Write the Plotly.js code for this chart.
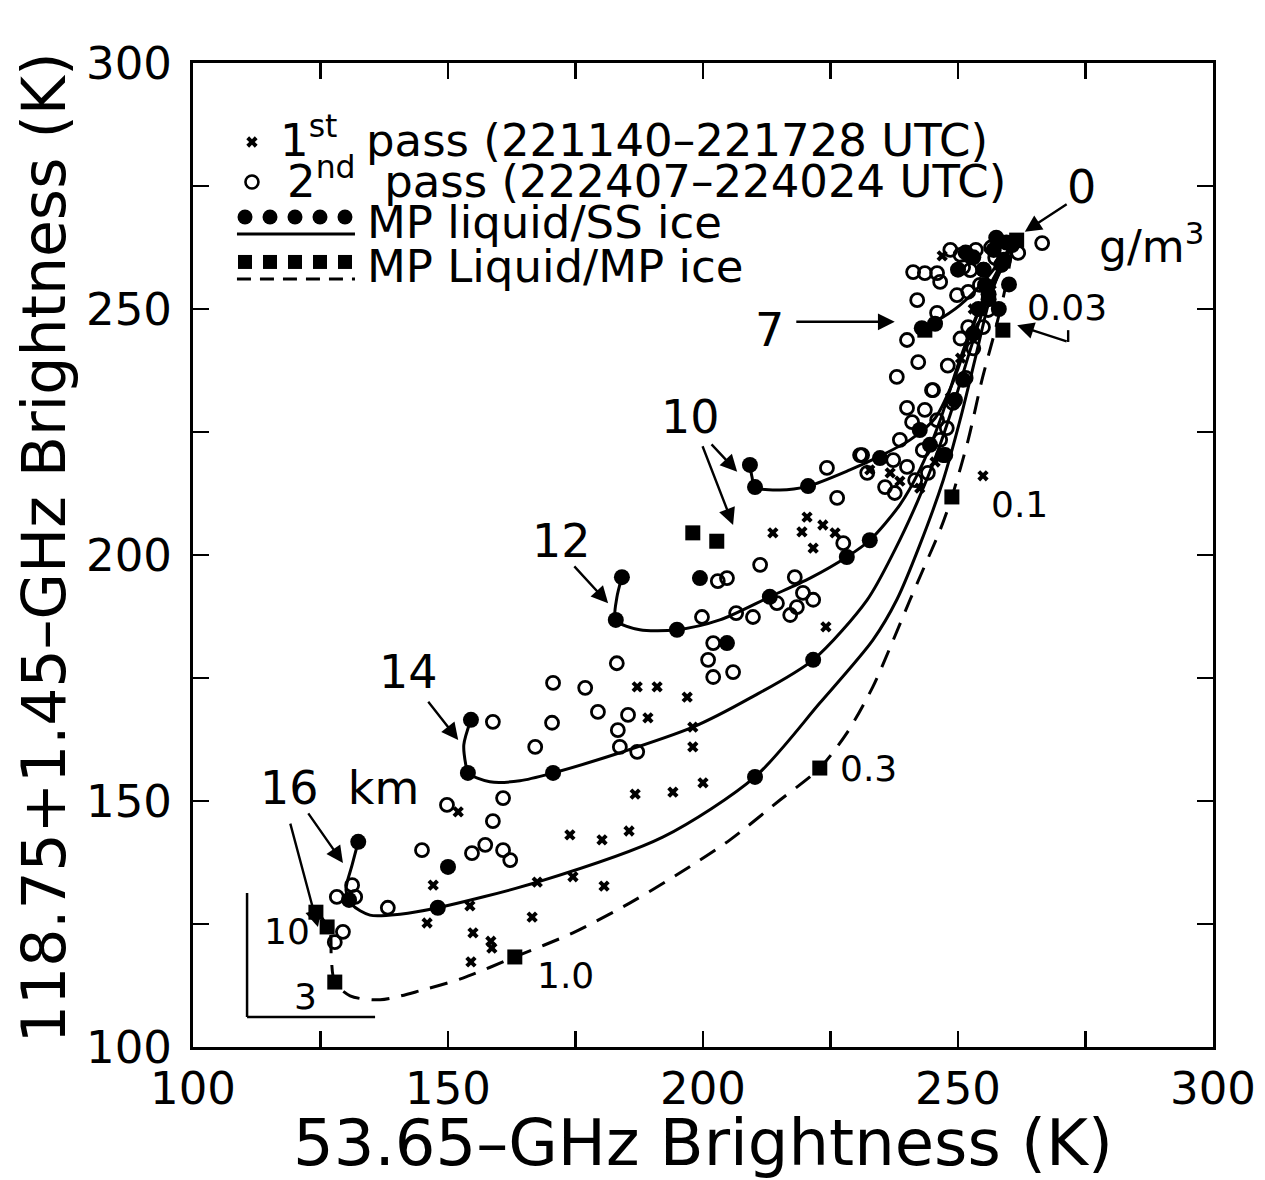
<!DOCTYPE html>
<html><head><meta charset="utf-8">
<script src="https://cdn.plot.ly/plotly-3.0.1.min.js"></script>
<style>body{margin:0;background:#fff}</style>
</head><body><div id="chart" style="width:1265px;height:1180px"></div>
<script>
// ---- axis ticks ----
const xTickVals = [100, 150, 200, 250, 300];
const yTickVals = [100, 150, 200, 250, 300];

// ---- observations: 1st pass (x) ----
const firstPassX = [186.7,194.1,200.0,173.9,180.2,185.5,174.5,180.6,166.5,154.9,158.4,158.6,154.5,154.3,167.5,147.1,145.9,152.0,213.7,219.4,223.5,221.6,220.4,225.9,224.1,187.1,191.0,189.2,196.9,198.0,198.0,242.5,254.9,236.7,238.6,246.9,232.7,245.5,234.7,250.5,253.0,256.5,248.5];
const firstPassY = [151.4,151.8,153.7,143.1,142.1,143.9,134.6,132.7,126.4,123.2,121.5,120.1,117.3,128.7,133.5,132.9,125.2,147.8,204.5,204.7,206.1,201.4,207.7,204.5,185.4,173.2,173.2,166.9,171.1,165.0,161.0,213.6,216.1,216.7,215.0,260.8,217.3,218.9,219.7,240.0,250.0,255.0,232.0];

// ---- observations: 2nd pass (o) ----
const secondPassX = [128.2,131.2,131.8,138.2,129.4,127.8,144.9,149.8,158.8,160.8,154.7,157.3,160.8,162.2,
  170.4,167.1,158.8,170.6,176.9,179.4,183.1,183.3,185.3,183.7,187.1,
  202.9,204.7,211.2,218.0,199.8,206.5,209.8,214.5,218.4,219.6,221.6,217.1,202.0,201.0,202.0,205.9,
  224.3,231.2,226.3,227.5,
  240.0,243.5,245.1,249.0,241.0,245.9,247.8,238.6,243.1,246.5,247.1,240.0,237.3,241.6,244.1,235.7,237.6,232.2,230.8,
  266.5,261.8,257.3,241.2,243.5,245.9,246.5,242.0,245.9,240.0,242.2,238.0,244.9,252.0,249.8,254.3,255.9,252.0,254.9,252.4,
  250.5,253.5,256.5,258.5,251.0,255.0,248.5,250.5,253.0,251.5,248.0];
const secondPassY = [130.5,132.9,130.5,128.3,123.4,121.3,140.0,149.2,145.9,150.6,139.4,141.1,140.0,138.0,
  165.9,161.0,166.1,174.0,173.0,168.1,178.0,164.4,167.5,161.0,160.0,
  194.7,195.3,198.0,195.5,187.4,188.2,187.4,190.2,189.4,192.3,190.9,187.8,182.1,178.7,175.2,176.2,
  217.7,220.3,211.6,202.4,
  229.9,229.5,233.5,230.9,227.0,227.4,225.8,223.4,221.3,223.4,220.3,217.9,219.3,215.2,216.7,213.8,212.6,216.7,220.3,
  263.4,261.4,260.4,257.5,257.3,257.3,255.5,251.8,249.2,243.7,239.2,236.2,233.5,253.5,252.8,254.9,249.8,246.3,246.3,257.9,
  261.0,262.0,262.5,259.0,258.5,258.0,262.0,244.0,242.0,236.0,238.5];

// ---- model: MP liquid / SS ice (solid curves, km cloud tops) ----
const ss16X = [132.4,131.2,130.0,131.2,134.7,140.6,148.0,167.5,192.2,210.2,222.9,233.3,238.0,242.5,247.1,250.4,253.3,255.9,258.2,260.6];
const ss16Y = [141.7,137.0,131.9,128.9,126.8,127.0,128.3,133.5,142.7,154.9,169.9,182.7,190.9,202.0,215.2,227.4,239.6,250.8,257.9,263.0];
const ss14X = [154.5,153.1,153.5,153.9,158.2,164.1,170.6,183.7,198.0,209.2,221.6,232.2,237.6,242.2,246.1,249.4,252.4,255.3,258.2,260.6];
const ss14Y = [166.5,161.4,157.3,155.7,153.9,154.1,155.7,159.8,165.0,170.9,178.7,190.9,201.0,211.2,221.3,231.5,241.7,250.8,257.5,263.0];
const ss12X = [184.1,183.1,182.9,187.6,194.9,203.3,213.1,221.0,228.2,232.7,238.6,242.5,246.5,250.0,253.3,256.3,260.6];
const ss12Y = [195.5,191.3,186.8,184.8,184.8,186.8,191.5,195.3,199.6,203.0,210.2,217.3,227.4,238.6,247.8,254.9,263.0];
const ss10X = [209.2,209.6,210.2,215.1,220.6,228.8,234.7,240.6,245.5,248.8,252.0,255.3,258.2,260.6];
const ss10Y = [218.3,215.9,213.8,213.2,214.0,217.3,220.1,223.4,227.8,234.6,243.7,252.8,258.3,263.0];
const ss7X = [242.9,245.5,250.4,255.3,260.6];
const ss7Y = [246.1,247.4,250.8,255.9,263.0];
// filled-circle points on the SS-ice curves
const ssDotX = [132.4,130.6,148.0,210.2,251.0,247.5,154.5,153.9,170.6,221.6,249.4,184.1,182.9,194.9,213.1,228.2,232.7,244.5,209.2,210.2,220.6,234.7,242.5,242.9,245.5,255.3,199.4,204.7,150.0,260.6,258.5,256.0,253.0,
  257.0,259.0,255.0,253.0,250.0,256.0,258.0,260.0,254.0,257.5,259.5,251.5];
const ssDotY = [141.7,129.9,128.3,154.9,235.6,220.3,166.5,155.7,155.7,178.7,231.5,195.5,186.8,184.8,191.5,199.6,203.0,222.4,218.3,213.8,214.0,219.7,225.4,246.1,247.0,254.9,195.3,182.1,136.6,263.0,259.0,252.0,245.0,
  262.0,260.0,258.0,260.5,258.0,253.0,250.0,255.0,250.0,264.5,263.5,261.5];

// ---- model: MP liquid / MP ice (dashed curve) ----
const mpX = [123.9,125.3,126.9,127.1,127.8,130.8,136.7,145.1,152.9,163.1,174.5,185.7,195.5,205.3,215.1,222.9,228.2,233.3,237.3,240.6,243.1,246.5,248.8,252.0,254.7,257.3,259.2,260.6];
const mpY = [127.8,126.2,123.4,118.7,113.2,110.4,109.6,111.6,114.0,118.3,123.2,129.3,135.4,142.1,150.2,156.7,163.8,173.2,182.7,190.9,196.9,205.1,211.8,223.4,235.6,245.7,253.9,262.0];
const mpSqX = [124.1,126.3,127.8,163.1,222.9,248.8,258.8,198.0,202.7,243.5,261.5];
const mpSqY = [127.4,124.4,113.2,118.3,156.7,211.8,245.7,204.5,202.8,245.7,264.0];

// ---- labels ----
const iwcLabels = ['0.03','0.1','0.3','1.0','10','3'];
const legendTexts = ['1<sup>st</sup>\u00a0\u00a0pass (221140–221728 UTC)',
                     '2<sup>nd</sup>\u00a0\u00a0pass (222407–224024 UTC)',
                     'MP liquid/SS ice', 'MP Liquid/MP ice'];
const xTitle = '53.65–GHz Brightness (K)';
const yTitle = '118.75+1.45–GHz Brightness (K)';

const FONT = 'DejaVu Sans, Verdana, sans-serif';
const K = 'black';

const traces = [];
function curve(x, y, dash) {
  traces.push({x, y, type:'scatter', mode:'lines', line:{color:K, width:3, shape:'spline', smoothing:0.8, dash:dash||'solid'}, hoverinfo:'skip'});
}
curve(ss16X, ss16Y); curve(ss14X, ss14Y); curve(ss12X, ss12Y); curve(ss10X, ss10Y); curve(ss7X, ss7Y);
curve(mpX, mpY, '18px,12px');
traces.push({x:firstPassX, y:firstPassY, type:'scatter', mode:'markers', marker:{symbol:'x', size:10, color:K}});
traces.push({x:secondPassX, y:secondPassY, type:'scatter', mode:'markers', marker:{symbol:'circle-open', size:13, color:K, line:{width:2.8, color:K}}});
traces.push({x:ssDotX, y:ssDotY, type:'scatter', mode:'markers', marker:{symbol:'circle', size:16, color:K}});
traces.push({x:mpSqX, y:mpSqY, type:'scatter', mode:'markers', marker:{symbol:'square', size:15, color:K}});

// legend glyphs on an overlay axis in plot-fraction units
const lgDotsX = [0.051,0.0755,0.100,0.1245,0.149];
traces.push({x:[0.0578], y:[0.9197], xaxis:'x2', yaxis:'y2', mode:'markers', marker:{symbol:'x', size:10, color:K}});
traces.push({x:[0.0578], y:[0.8791], xaxis:'x2', yaxis:'y2', mode:'markers', marker:{symbol:'circle-open', size:13, color:K, line:{width:2.6,color:K}}});
traces.push({x:lgDotsX, y:lgDotsX.map(()=>0.8435), xaxis:'x2', yaxis:'y2', mode:'markers', marker:{symbol:'circle', size:15, color:K}});
traces.push({x:[0.0431,0.1588], y:[0.8262,0.8262], xaxis:'x2', yaxis:'y2', mode:'lines', line:{color:K, width:3}});
traces.push({x:lgDotsX, y:lgDotsX.map(()=>0.7978), xaxis:'x2', yaxis:'y2', mode:'markers', marker:{symbol:'square', size:14, color:K}});
traces.push({x:[0.0431,0.1588], y:[0.7805,0.7805], xaxis:'x2', yaxis:'y2', mode:'lines', line:{color:K, width:3, dash:'14px,9px'}});

function txt(x, y, t, size, extra) {
  return Object.assign({x, y, xref:'x', yref:'y', text:t, showarrow:false, font:{family:FONT, size, color:K}, xanchor:'center', yanchor:'middle'}, extra||{});
}
function arr(tx, ty, hx, hy) {
  return {x:hx, y:hy, ax:tx, ay:ty, axref:'x', ayref:'y', xref:'x', yref:'y', text:'', showarrow:true, arrowhead:2, arrowsize:1.4, arrowwidth:2.4, arrowcolor:K, standoff:0};
}
function legendText(x, y, t) {
  return {xref:'paper', yref:'paper', x, y, text:t, showarrow:false, xanchor:'left', yanchor:'middle', font:{family:FONT, size:45, color:K}};
}
const annotations = [
  txt(197.5, 228.0, '10', 46), arr(201.4,222.8, 206.7,216.9), arr(199.8,222.4, 205.9,206.1),
  txt(172.2, 202.8, '12', 46), arr(174.5,198.0, 181.4,190.2),
  txt(142.2, 176.2, '14', 46), arr(145.9,170.5, 152.0,162.4),
  txt(128.8, 152.6, '16\u00a0\u00a0km', 46), arr(122.4,147.8, 129.4,137.4), arr(119.0,145.7, 124.5,124.4),
  txt(213.1, 245.7, '7', 46), arr(218.0,247.4, 237.6,247.4),
  txt(274.3, 274.8, '0', 46), arr(271.6,271.5, 263.1,265.7),
  txt(288.0, 263.4, 'g/m<sup>3</sup>', 44),
  txt(271.4, 250.4, iwcLabels[0], 36), arr(271.6,243.3, 261.6,246.7),
  txt(262.0, 210.2, iwcLabels[1], 36),
  txt(232.4, 156.7, iwcLabels[2], 36),
  txt(173.1, 114.6, iwcLabels[3], 36),
  txt(118.4, 123.4, iwcLabels[4], 36),
  txt(122.0, 110.2, iwcLabels[5], 36),
  legendText(0.0833, 0.9238, legendTexts[0]),
  legendText(0.0902, 0.8831, legendTexts[1]),
  legendText(0.1686, 0.8374, legendTexts[2]),
  legendText(0.1686, 0.7927, legendTexts[3]),
  {xref:'paper', yref:'paper', x:-0.146, y:0.507, text:yTitle, textangle:-90, showarrow:false, xanchor:'center', yanchor:'middle', font:{family:FONT, size:60, color:K}}
];
const shapes = [
  {type:'line', xref:'x', yref:'y', x0:271.6, y0:245.7, x1:271.6, y1:243.3, line:{color:K, width:2.4}},
  {type:'line', xref:'x', yref:'y', x0:110.6, y0:131.3, x1:110.6, y1:106.1, line:{color:K, width:2.5}},
  {type:'line', xref:'x', yref:'y', x0:110.6, y0:106.1, x1:135.7, y1:106.1, line:{color:K, width:2.5}}
];

const axBase = {showgrid:false, zeroline:false, showline:true, linecolor:K, linewidth:3, mirror:'ticks',
  ticks:'inside', ticklen:16, tickwidth:2.5, tickcolor:K, tickmode:'array',
  minor:{dtick:25, ticks:'inside', ticklen:16, tickwidth:2.5, tickcolor:K, showgrid:false},
  tickfont:{family:FONT, size:45, color:K}};
const layout = {
  width:1265, height:1180, showlegend:false, paper_bgcolor:'white', plot_bgcolor:'white',
  margin:{l:193, r:52, t:63, b:133},
  xaxis:Object.assign({}, axBase, {range:[100,300], tickvals:xTickVals, ticktext:xTickVals.map(String), ticklabelstandoff:0,
    title:{text:xTitle, font:{family:FONT, size:64, color:K}, standoff:18}}),
  yaxis:Object.assign({}, axBase, {range:[100,300], tickvals:yTickVals, ticktext:yTickVals.map(String), ticklabelstandoff:9}),
  xaxis2:{overlaying:'x', range:[0,1], visible:false, fixedrange:true},
  yaxis2:{overlaying:'y', range:[0,1], visible:false, fixedrange:true},
  annotations, shapes
};
Plotly.newPlot('chart', traces, layout, {displayModeBar:false, staticPlot:true});
</script></body></html>
